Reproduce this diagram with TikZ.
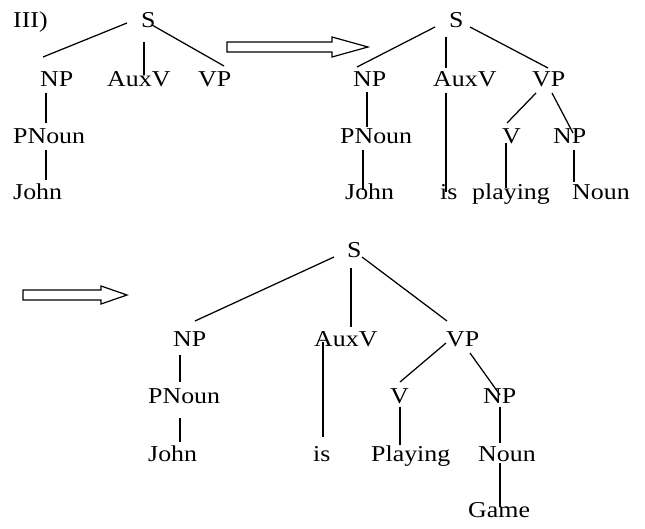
\documentclass[tikz,border=0pt]{standalone}
\usepackage{fontspec}
\setmainfont{Liberation Serif}
\newfontfamily\widefont[FakeStretch=1.14]{Liberation Serif}
\begin{document}
\begin{tikzpicture}[x=1pt,y=-1pt,
  lbl/.style={anchor=base west,inner sep=0pt,font=\widefont\fontsize{22.7}{24}\selectfont},
  edge/.style={line width=1.25pt},
  fatarrow/.style={line width=1.2pt,line join=miter}]
\useasboundingbox (0,0) rectangle (645,529);

% ---------- first tree ----------
\node[lbl] (lab) at (13,28) {III)};
\node[lbl] (aS) at (141,28) {S};
\node[lbl] (aNP) at (40,87) {NP};
\node[lbl] (aAux) at (107,87) {AuxV};
\node[lbl] (aVP) at (198,87) {VP};
\node[lbl] (aPN) at (13,144) {PNoun};
\node[lbl] (aJ) at (13,200) {John};
\coordinate (a1) at (127,23); \coordinate (a2) at (43,57);
\coordinate (a3) at (144,42); \coordinate (a4) at (144,75);
\coordinate (a5) at (152,25); \coordinate (a6) at (224,66);
\coordinate (a7) at (46,93);  \coordinate (a8) at (46,123);
\coordinate (a9) at (46,150); \coordinate (a10) at (46,180);
\draw[edge] (a1) -- (a2);
\draw[edge] (a3) -- (a4);
\draw[edge] (a5) -- (a6);
\draw[edge] (a7) -- (a8);
\draw[edge] (a9) -- (a10);

% ---------- first arrow ----------
\draw[fatarrow] (227,42) -- (332,42) -- (332,37) -- (368,47) -- (332,57)
  -- (332,52) -- (227,52) -- cycle;

% ---------- second tree ----------
\node[lbl] (bS) at (449,28) {S};
\node[lbl] (bNP) at (353,87) {NP};
\node[lbl] (bAux) at (433,87) {AuxV};
\node[lbl] (bVP) at (532,87) {VP};
\node[lbl] (bPN) at (340,144) {PNoun};
\node[lbl] (bV) at (502,144) {V};
\node[lbl] (bNP2) at (553,144) {NP};
\node[lbl] (bJ) at (345,200) {John};
\node[lbl] (bis) at (440,200) {is};
\node[lbl] (bpl) at (472,200) {playing};
\node[lbl] (bN) at (572,200) {Noun};
\coordinate (b1) at (435,27);  \coordinate (b2) at (357,67);
\coordinate (b3) at (446,37);  \coordinate (b4) at (446,68);
\coordinate (b5) at (470,27);  \coordinate (b6) at (548,68);
\coordinate (b7) at (367,92);  \coordinate (b8) at (367,127);
\coordinate (b9) at (363,150); \coordinate (b10) at (363,190);
\coordinate (b11) at (446,93); \coordinate (b12) at (446,192);
\coordinate (b13) at (536,93); \coordinate (b14) at (507,123);
\coordinate (b15) at (552,93); \coordinate (b16) at (573,133);
\coordinate (b17) at (506,143); \coordinate (b18) at (506,188);
\coordinate (b19) at (574,150); \coordinate (b20) at (574,182);
\draw[edge] (b1) -- (b2);
\draw[edge] (b3) -- (b4);
\draw[edge] (b5) -- (b6);
\draw[edge] (b7) -- (b8);
\draw[edge] (b9) -- (b10);
\draw[edge] (b11) -- (b12);
\draw[edge] (b13) -- (b14);
\draw[edge] (b15) -- (b16);
\draw[edge] (b17) -- (b18);
\draw[edge] (b19) -- (b20);

% ---------- second arrow ----------
\draw[fatarrow] (23,290) -- (101,290) -- (101,286) -- (127,295) -- (101,304)
  -- (101,300) -- (23,300) -- cycle;

% ---------- third tree ----------
\node[lbl] (cS) at (347,258) {S};
\node[lbl] (cNP) at (173,346) {NP};
\node[lbl] (cAux) at (314,346) {AuxV};
\node[lbl] (cVP) at (446,346) {VP};
\node[lbl] (cPN) at (148,403) {PNoun};
\node[lbl] (cV) at (390,403) {V};
\node[lbl] (cNP2) at (483,403) {NP};
\node[lbl] (cJ) at (148,461) {John};
\node[lbl] (cis) at (313,461) {is};
\node[lbl] (cpl) at (371,461) {Playing};
\node[lbl] (cN) at (478,461) {Noun};
\node[lbl] (cG) at (468,517) {Game};
\coordinate (c1) at (334,257);  \coordinate (c2) at (195,321);
\coordinate (c3) at (351,268);  \coordinate (c4) at (351,327);
\coordinate (c5) at (362,257);  \coordinate (c6) at (447,321);
\coordinate (c7) at (180,355);  \coordinate (c8) at (180,382);
\coordinate (c9) at (180,418);  \coordinate (c10) at (180,442);
\coordinate (c11) at (323,342); \coordinate (c12) at (323,437);
\coordinate (c13) at (446,343); \coordinate (c14) at (400,382);
\coordinate (c15) at (470,353); \coordinate (c16) at (500,395);
\coordinate (c17) at (400,407); \coordinate (c18) at (400,445);
\coordinate (c19) at (500,407); \coordinate (c20) at (500,443);
\coordinate (c21) at (500,463); \coordinate (c22) at (500,507);
\draw[edge] (c1) -- (c2);
\draw[edge] (c3) -- (c4);
\draw[edge] (c5) -- (c6);
\draw[edge] (c7) -- (c8);
\draw[edge] (c9) -- (c10);
\draw[edge] (c11) -- (c12);
\draw[edge] (c13) -- (c14);
\draw[edge] (c15) -- (c16);
\draw[edge] (c17) -- (c18);
\draw[edge] (c19) -- (c20);
\draw[edge] (c21) -- (c22);
\end{tikzpicture}
\end{document}
